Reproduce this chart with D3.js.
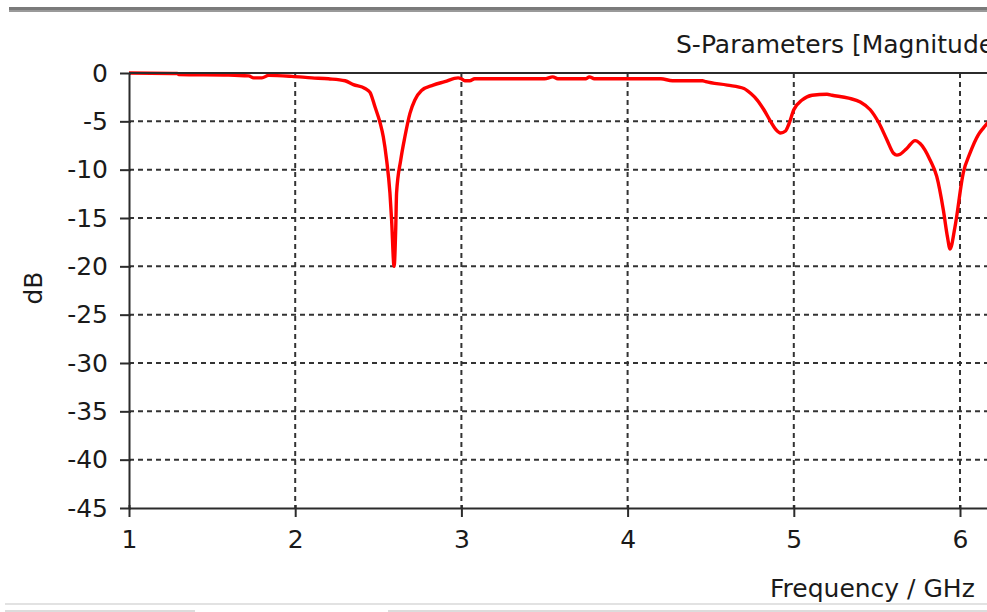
<!DOCTYPE html>
<html>
<head>
<meta charset="utf-8">
<script src="https://cdn.jsdelivr.net/npm/d3@7"></script>
<style>
  html, body { margin: 0; padding: 0; background: #fff; overflow: hidden; }
  svg { display: block; }
  text { font-family: "DejaVu Sans", sans-serif; fill: #1a1a1a; }
</style>
</head>
<body>
<svg id="chart" width="987" height="612"></svg>
<script>
// ---- data ----
const titleText = "S-Parameters [Magnitude in dB]";
const xLabel = "Frequency / GHz";
const yLabel = "dB";
const xTicks = [1, 2, 3, 4, 5, 6];
const yTicks = [0, -5, -10, -15, -20, -25, -30, -35, -40, -45];
const freq = [1.00, 1.29, 1.30, 1.60, 1.72, 1.75, 1.80, 1.84, 1.98, 2.10, 2.20, 2.30, 2.35, 2.42, 2.45, 2.48, 2.51, 2.53, 2.55, 2.57, 2.58, 2.595, 2.605, 2.61, 2.635, 2.66, 2.69, 2.72, 2.76, 2.83, 2.90, 2.98, 3.00, 3.02, 3.05, 3.08, 3.50, 3.55, 3.58, 3.75, 3.77, 3.80, 4.20, 4.27, 4.45, 4.47, 4.60, 4.70, 4.74, 4.78, 4.82, 4.86, 4.89, 4.92, 4.95, 4.97, 5.00, 5.05, 5.11, 5.20, 5.23, 5.33, 5.40, 5.46, 5.51, 5.56, 5.60, 5.62, 5.64, 5.68, 5.73, 5.76, 5.82, 5.86, 5.90, 5.925, 5.94, 5.97, 6.02, 6.06, 6.11, 6.14, 6.20];
const s11 = [0.00, -0.05, -0.15, -0.2, -0.3, -0.5, -0.5, -0.25, -0.35, -0.5, -0.6, -0.8, -1.2, -1.6, -2.0, -3.5, -5.1, -6.6, -9.0, -12.4, -15.2, -20.0, -16.0, -12.4, -9.0, -6.6, -4.2, -2.8, -1.8, -1.25, -0.9, -0.5, -0.6, -0.8, -0.8, -0.6, -0.6, -0.4, -0.6, -0.6, -0.4, -0.6, -0.6, -0.8, -0.8, -0.9, -1.25, -1.6, -2.1, -2.8, -3.8, -5.0, -5.8, -6.2, -6.0, -5.3, -3.8, -2.8, -2.3, -2.2, -2.3, -2.6, -3.0, -3.8, -5.1, -6.9, -8.3, -8.5, -8.4, -7.8, -7.0, -7.3, -9.0, -10.7, -14.2, -17.0, -18.2, -15.9, -10.3, -8.3, -6.4, -5.7, -4.5];

// ---- layout ----
const svg = d3.select("#chart");
const plotLeft = 129, plotTop = 73, plotBottom = 508;
const pxPerGHz = 166.2;
const fontSize = 25;
const x = d3.scaleLinear().domain([1, 7]).range([plotLeft, plotLeft + 6 * pxPerGHz]);
const y = d3.scaleLinear().domain([-45, 0]).range([plotBottom, plotTop]);
const plotRight = x(7);

// window chrome
svg.append("rect").attr("x", 9).attr("y", 7).attr("width", 978).attr("height", 3).attr("fill", "#7a7a7a");
svg.append("rect").attr("x", 9).attr("y", 10).attr("width", 978).attr("height", 2).attr("fill", "#9a9a9a");
svg.append("rect").attr("x", 5).attr("y", 603).attr("width", 982).attr("height", 2).attr("fill", "#e2e2e2");
svg.append("rect").attr("x", 5).attr("y", 610).attr("width", 190).attr("height", 2).attr("fill", "#dcdcdc");
svg.append("rect").attr("x", 388).attr("y", 610).attr("width", 599).attr("height", 2).attr("fill", "#dcdcdc");

// grid
const grid = svg.append("g").attr("stroke", "#333").attr("stroke-width", 2).attr("stroke-dasharray", "5,4");
grid.selectAll("line.h").data(yTicks.filter(d => d > -45 && d < 0)).enter().append("line")
  .attr("x1", plotLeft).attr("x2", plotRight).attr("y1", d => y(d)).attr("y2", d => y(d));
grid.selectAll("line.v").data(xTicks.filter(d => d > 1)).enter().append("line")
  .attr("y1", plotTop).attr("y2", plotBottom).attr("x1", d => x(d)).attr("x2", d => x(d));

// curve
const pts = freq.map((f, i) => [f, s11[i]]);
const line = d3.line().x(d => x(d[0])).y(d => y(d[1])).curve(d3.curveMonotoneX);
svg.append("path").datum(pts).attr("d", line).attr("fill", "none")
  .attr("stroke", "#ff0000").attr("stroke-width", 3.4).attr("stroke-linejoin", "round");

// frame (top)
svg.append("line").attr("x1", plotLeft).attr("x2", plotRight).attr("y1", plotTop).attr("y2", plotTop)
  .attr("stroke", "#2b2b2b").attr("stroke-width", 2);

// axes
const yAxis = svg.append("g").attr("transform", `translate(${plotLeft},0)`)
  .call(d3.axisLeft(y).tickValues(yTicks).tickSizeInner(9).tickSizeOuter(0).tickPadding(12).tickFormat(d => String(d)));
const xAxis = svg.append("g").attr("transform", `translate(0,${plotBottom})`)
  .call(d3.axisBottom(x).tickValues(xTicks).tickSizeInner(9).tickSizeOuter(0).tickPadding(13).tickFormat(d => String(d)));
[yAxis, xAxis].forEach(g => {
  g.select(".domain").attr("stroke", "#2b2b2b").attr("stroke-width", 2);
  g.selectAll(".tick line").attr("stroke", "#2b2b2b").attr("stroke-width", 2);
  g.selectAll(".tick text").attr("font-size", fontSize).attr("font-family", "DejaVu Sans").attr("fill", "#1a1a1a");
});
yAxis.selectAll(".tick line").attr("x1", 2);
xAxis.selectAll(".tick line").attr("y1", -3);

// titles
svg.append("text").attr("x", 676).attr("y", 53).attr("font-size", fontSize).text(titleText);
svg.append("text").attr("x", 770).attr("y", 597).attr("font-size", fontSize).text(xLabel);
svg.append("text").attr("transform", "translate(42,288) rotate(-90)").attr("text-anchor", "middle")
  .attr("font-size", fontSize).text(yLabel);
</script>
</body>
</html>
